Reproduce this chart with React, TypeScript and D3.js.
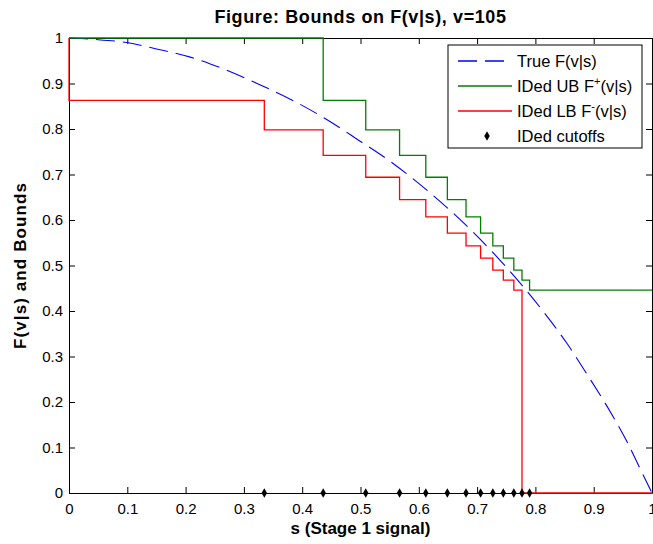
import React, { useEffect, useRef } from "react";
import * as d3 from "d3";

// breakpoints of the identified bounds (s values)
const cutoffs = [0.335, 0.436, 0.509, 0.567, 0.612, 0.649, 0.681, 0.706, 0.727, 0.745, 0.763, 0.777, 0.79];
// level of each bound on the intervals [0,c1), [c1,c2), ..., [c13,1]
const ubLevels = [1, 1, 0.863, 0.798, 0.742, 0.694, 0.645, 0.607, 0.571, 0.543, 0.516, 0.49, 0.468, 0.446];
const lbLevels = [0.863, 0.798, 0.742, 0.694, 0.645, 0.607, 0.571, 0.543, 0.516, 0.49, 0.468, 0.446, 0, 0];

// true F(v|s)
const trueS = [0, 0.042, 0.099, 0.15, 0.208, 0.259, 0.333, 0.385, 0.442, 0.496, 0.553, 0.619, 0.653, 0.739, 0.814, 0.854, 0.891, 0.925, 0.957, 0.982, 1];
const trueF = [1, 0.997, 0.99, 0.976, 0.958, 0.935, 0.894, 0.862, 0.821, 0.776, 0.727, 0.66, 0.622, 0.512, 0.398, 0.329, 0.256, 0.186, 0.113, 0.047, 0];

const xTicks = [0, 0.1, 0.2, 0.3, 0.4, 0.5, 0.6, 0.7, 0.8, 0.9, 1];
const yTicks = [0, 0.1, 0.2, 0.3, 0.4, 0.5, 0.6, 0.7, 0.8, 0.9, 1];

const FONT = "'Liberation Sans', Arial, sans-serif";
const BLUE = "#0000ff";
const GREEN = "#008000";
const RED = "#ff0000";

const BoundsChart = () => {
  const chartRef = useRef(null);

  useEffect(() => {
    const width = 653;
    const height = 544;
    const margin = { top: 38, right: 1, bottom: 51, left: 69 };
    const innerW = width - margin.left - margin.right;
    const innerH = height - margin.top - margin.bottom;

    const svg = d3.select(chartRef.current).attr("width", width).attr("height", height);
    svg.append("rect").attr("width", width).attr("height", height).attr("fill", "white");

    const g = svg.append("g").attr("transform", `translate(${margin.left},${margin.top})`);

    const x = d3.scaleLinear().domain([0, 1]).range([0, innerW]);
    const y = d3.scaleLinear().domain([0, 1]).range([innerH, 0]);
    const fmt = (d) => String(+(+d).toFixed(1));

    // axes, ticks pointing inward
    const styleAxis = (sel) => {
      sel.selectAll("path,line").attr("stroke", "#000");
      sel.selectAll("text").attr("fill", "#000").style("font-family", FONT).style("font-size", "15px");
    };
    g.append("g")
      .attr("transform", `translate(0,${innerH})`)
      .call(d3.axisBottom(x).tickValues(xTicks).tickFormat(fmt).tickSizeInner(-6).tickSizeOuter(0).tickPadding(10))
      .call(styleAxis);
    g.append("g")
      .call(d3.axisTop(x).tickValues(xTicks).tickFormat(() => "").tickSizeInner(-6).tickSizeOuter(0))
      .call(styleAxis);
    g.append("g")
      .call(d3.axisLeft(y).tickValues(yTicks).tickFormat(fmt).tickSizeInner(-6).tickSizeOuter(0).tickPadding(6))
      .call(styleAxis);
    g.append("g")
      .attr("transform", `translate(${innerW},0)`)
      .call(d3.axisRight(y).tickValues(yTicks).tickFormat(() => "").tickSizeInner(-6).tickSizeOuter(0))
      .call(styleAxis);

    // true curve
    const trueData = trueS.map((s, i) => [s, trueF[i]]);
    const curve = d3
      .line()
      .x((d) => x(d[0]))
      .y((d) => y(d[1]))
      .curve(d3.curveMonotoneX);
    g.append("path")
      .attr("d", curve(trueData))
      .attr("fill", "none")
      .attr("stroke", BLUE)
      .attr("stroke-width", 1.1)
      .attr("stroke-dasharray", "19,8");

    // step bounds
    const edges = [0, ...cutoffs, 1];
    const stepData = (levels) => {
      const pts = levels.map((v, i) => [edges[i], v]);
      pts.push([1, levels[levels.length - 1]]);
      return pts;
    };
    const step = d3
      .line()
      .x((d) => x(d[0]))
      .y((d) => y(d[1]))
      .curve(d3.curveStepAfter);

    g.append("path")
      .attr("d", step(stepData(ubLevels)))
      .attr("fill", "none")
      .attr("stroke", GREEN)
      .attr("stroke-width", 1.3);

    // red line starts at the top-left corner
    const lbPts = [[0, 1], ...stepData(lbLevels)];
    g.append("path")
      .attr("d", step(lbPts))
      .attr("fill", "none")
      .attr("stroke", RED)
      .attr("stroke-width", 1.3);

    // cutoff markers
    const diamond = d3.symbol().type(d3.symbolDiamond).size(26);
    g.selectAll(".cut")
      .data(cutoffs)
      .enter()
      .append("path")
      .attr("class", "cut")
      .attr("d", diamond)
      .attr("transform", (d) => `translate(${x(d)},${y(0)})`)
      .attr("fill", "#000");

    // title and labels
    svg
      .append("text")
      .attr("x", margin.left + innerW / 2)
      .attr("y", 23)
      .attr("text-anchor", "middle")
      .style("font-family", FONT)
      .style("font-size", "18px")
      .style("letter-spacing", "0.6px")
      .style("font-weight", "bold")
      .text("Figure: Bounds on F(v|s), v=105");
    svg
      .append("text")
      .attr("x", margin.left + innerW / 2)
      .attr("y", 534)
      .attr("text-anchor", "middle")
      .style("font-family", FONT)
      .style("font-size", "17px")
      .style("font-weight", "bold")
      .text("s (Stage 1 signal)");
    svg
      .append("text")
      .attr("transform", `translate(26,${margin.top + innerH / 2}) rotate(-90)`)
      .attr("text-anchor", "middle")
      .style("font-family", FONT)
      .style("font-size", "17px")
      .style("letter-spacing", "1.1px")
      .style("font-weight", "bold")
      .text("F(v|s) and Bounds");

    // legend
    const legend = svg.append("g").attr("transform", "translate(448,45)");
    legend
      .append("rect")
      .attr("width", 194)
      .attr("height", 103)
      .attr("fill", "white")
      .attr("stroke", "#000");
    const items = [
      { color: BLUE, dash: "19,8", main: "True F(v|s)" },
      { color: GREEN, main: "IDed UB F", sup: "+", tail: "(v|s)" },
      { color: RED, main: "IDed LB F", sup: "-", tail: "(v|s)" },
      { marker: true, main: "IDed cutoffs" },
    ];
    items.forEach((it, i) => {
      const cy = 16 + i * 25;
      if (it.marker) {
        legend.append("path").attr("d", diamond).attr("transform", `translate(39,${cy})`).attr("fill", "#000");
      } else {
        legend
          .append("line")
          .attr("x1", 10)
          .attr("x2", 64)
          .attr("y1", cy)
          .attr("y2", cy)
          .attr("stroke", it.color)
          .attr("stroke-width", 1.3)
          .attr("stroke-dasharray", it.dash || null);
      }
      const t = legend
        .append("text")
        .attr("x", 69)
        .attr("y", cy + 6)
        .style("font-family", FONT)
        .style("font-size", "16.5px")
        .attr("fill", "#000");
      t.append("tspan").text(it.main);
      if (it.sup) {
        t.append("tspan").attr("dy", -7).style("font-size", "11px").text(it.sup);
        t.append("tspan").attr("dy", 7).text(it.tail);
      }
    });

    return () => {
      d3.select(chartRef.current).selectAll("*").remove();
    };
  }, []);

  return <svg ref={chartRef} style={{ position: "absolute", left: 0, top: 0 }}></svg>;
};

export default function App() {
  return <BoundsChart />;
}
